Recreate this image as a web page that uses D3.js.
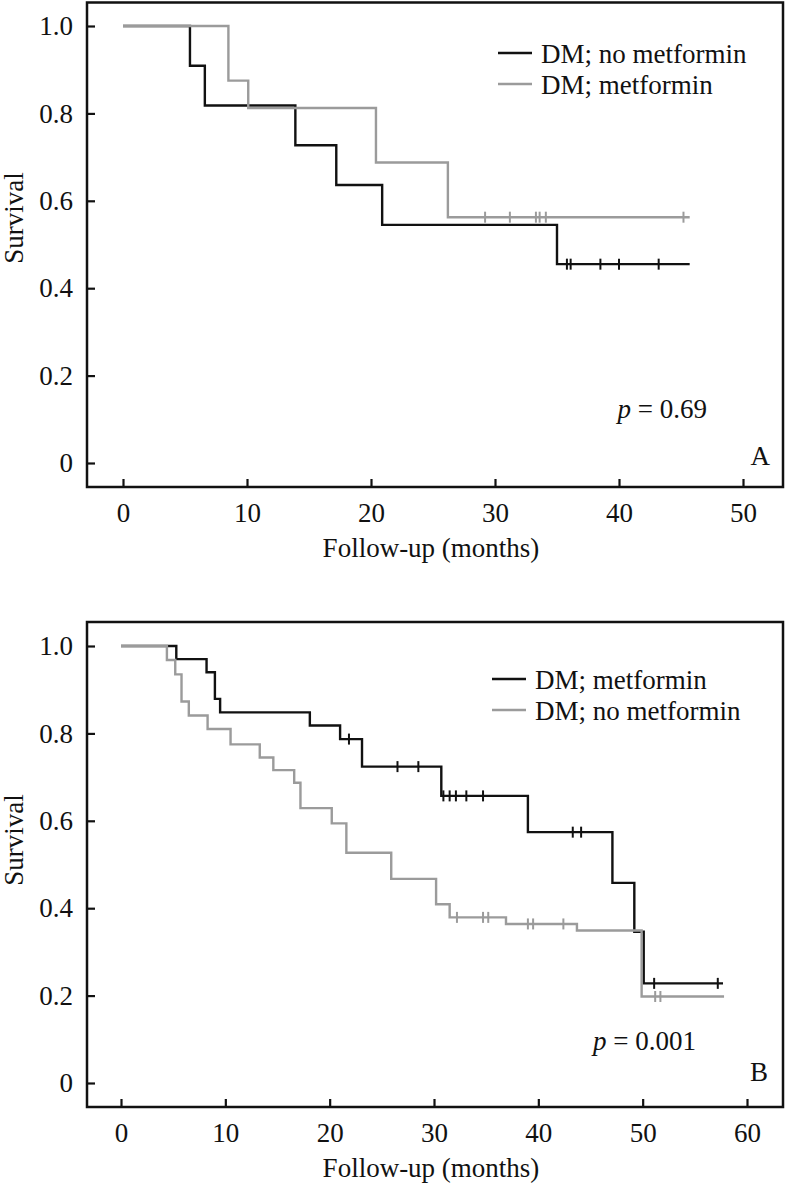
<!DOCTYPE html>
<html>
<head>
<meta charset="utf-8">
<script src="https://cdn.jsdelivr.net/npm/d3@7"></script>
<style>
  html, body { margin: 0; padding: 0; background: #fff; }
  svg { display: block; }
  text { font-family: "Liberation Serif", "Times New Roman", serif; fill: #111; }
</style>
</head>
<body>
<svg id="chart" width="787" height="1188"></svg>
<script>
// ---------- Data ----------
// Panel A
const aYTicks = [0, 0.2, 0.4, 0.6, 0.8, 1.0];
const aXTicks = [0, 10, 20, 30, 40, 50];
const aBlackLabel = "DM; no metformin";
const aBlackTimes = [0, 5.4, 6.6, 13.9, 17.2, 20.9, 35.0];
const aBlackSurv  = [1, 0.909, 0.818, 0.727, 0.636, 0.545, 0.455];
const aBlackEnd = 45.7;
const aBlackCensor = [35.8, 36.1, 38.5, 40.0, 43.2];
const aGrayLabel = "DM; metformin";
const aGrayTimes = [0, 8.5, 10.1, 20.4, 26.2];
const aGraySurv  = [1, 0.875, 0.8125, 0.6875, 0.5625];
const aGrayEnd = 45.7;
const aGrayCensor = [29.2, 31.2, 33.3, 33.6, 34.1, 45.2];
const aPValue = "0.69";
const aLetter = "A";

// Panel B
const bYTicks = [0, 0.2, 0.4, 0.6, 0.8, 1.0];
const bXTicks = [0, 10, 20, 30, 40, 50, 60];
const bBlackLabel = "DM; metformin";
const bBlackTimes = [0, 5.3, 8.2, 9.0, 9.5, 18.1, 21.0, 23.1, 30.7, 39.0, 47.1, 49.2, 50.1];
const bBlackSurv  = [1, 0.970, 0.940, 0.879, 0.848, 0.818, 0.787, 0.724, 0.657, 0.574, 0.458, 0.346, 0.228];
const bBlackEnd = 57.7;
const bBlackCensor = [21.85, 26.5, 28.5, 30.9, 31.5, 32.1, 33.1, 34.7, 43.3, 44.1, 51.1, 57.2];
const bGrayLabel = "DM; no metformin";
const bGrayTimes = [0, 4.4, 5.2, 5.8, 6.5, 8.3, 10.5, 13.3, 14.6, 16.6, 17.2, 20.2, 21.6, 25.9, 30.2, 31.5, 36.9, 43.7, 49.9];
const bGraySurv  = [1, 0.968, 0.935, 0.873, 0.841, 0.810, 0.775, 0.745, 0.716, 0.687, 0.629, 0.594, 0.527, 0.467, 0.409, 0.379, 0.364, 0.349, 0.198];
const bGrayEnd = 57.8;
const bGrayCensor = [32.2, 34.7, 35.2, 39.0, 39.5, 42.4, 51.2, 51.7];
const bPValue = "0.001";
const bLetter = "B";

const xTitle = "Follow-up (months)";
const yTitle = "Survival";

// ---------- Drawing ----------
const svg = d3.select("#chart");
const BLACK = "#111111", GRAY = "#9b9b9b";
const FS = 27;

function panel(cfg) {
  const g = svg.append("g");
  const x = d3.scaleLinear().domain(cfg.xDomain).range(cfg.xRange);
  const y = d3.scaleLinear().domain([0, 1]).range(cfg.yRange);

  // axes (ticks inward)
  const yAxis = d3.axisLeft(y).tickValues(cfg.yTicks).tickSize(-8).tickPadding(14)
    .tickFormat(d => d === 0 ? "0" : d.toFixed(1));
  const ya = g.append("g").attr("transform", `translate(${cfg.frame.x0},0)`).call(yAxis);
  const xAxis = d3.axisBottom(x).tickValues(cfg.xTicks).tickSize(-8).tickPadding(16)
    .tickFormat(d3.format("d"));
  const xa = g.append("g").attr("transform", `translate(0,${cfg.frame.y1})`).call(xAxis);
  [ya, xa].forEach(a => {
    a.select(".domain").remove();
    a.selectAll(".tick line").attr("stroke", BLACK).attr("stroke-width", 2.2);
    a.selectAll(".tick text").attr("font-size", FS).attr("font-family", "Liberation Serif").attr("fill", "#111");
  });

  // frame
  g.append("rect")
    .attr("x", cfg.frame.x0).attr("y", cfg.frame.y0)
    .attr("width", cfg.frame.x1 - cfg.frame.x0).attr("height", cfg.frame.y1 - cfg.frame.y0)
    .attr("fill", "none").attr("stroke", BLACK).attr("stroke-width", 2.5);

  // curves
  const line = d3.line().x(d => x(d[0])).y(d => y(d[1])).curve(d3.curveStepAfter);
  cfg.series.forEach(s => {
    const pts = s.times.map((t, i) => [t, s.surv[i]]);
    pts.push([s.end, s.surv[s.surv.length - 1]]);
    g.append("path").datum(pts)
      .attr("d", line).attr("fill", "none")
      .attr("stroke", s.color).attr("stroke-width", 2.4);
    // censor marks
    const survAt = t => { let v = 1; s.times.forEach((tt, i) => { if (tt <= t) v = s.surv[i]; }); return v; };
    g.selectAll(null).data(s.censor).enter().append("line")
      .attr("x1", d => x(d)).attr("x2", d => x(d))
      .attr("y1", d => y(survAt(d)) - 5.5).attr("y2", d => y(survAt(d)) + 5.5)
      .attr("stroke", s.color).attr("stroke-width", 2);
  });

  // legend
  cfg.series.forEach((s, i) => {
    const ly = cfg.legend.y + i * 31;
    g.append("line").attr("x1", cfg.legend.x).attr("x2", cfg.legend.x + 34)
      .attr("y1", ly).attr("y2", ly).attr("stroke", s.color).attr("stroke-width", 2.4);
    g.append("text").attr("x", cfg.legend.x + 43).attr("y", ly + 10)
      .attr("font-size", FS).text(s.label);
  });

  // p value
  const pt = g.append("text").attr("x", cfg.p.x).attr("y", cfg.p.y)
    .attr("text-anchor", "end").attr("font-size", FS);
  pt.append("tspan").attr("font-style", "italic").text("p");
  pt.append("tspan").text(" = " + cfg.p.value);

  // panel letter
  g.append("text").attr("x", cfg.letter.x).attr("y", cfg.letter.y)
    .attr("text-anchor", "end").attr("font-size", FS).text(cfg.letter.text);

  // axis titles
  g.append("text").attr("x", (cfg.frame.x0 + cfg.frame.x1) / 2 - 4).attr("y", cfg.xTitleY)
    .attr("text-anchor", "middle").attr("font-size", FS).text(xTitle);
  g.append("text").attr("transform", `translate(23,${cfg.yTitleY}) rotate(-90)`)
    .attr("text-anchor", "middle").attr("font-size", FS).text(yTitle);
}

panel({
  xDomain: [0, 50], xRange: [123, 743], yRange: [463, 26],
  yTicks: aYTicks, xTicks: aXTicks,
  frame: { x0: 87, x1: 783, y0: 2.5, y1: 487 },
  series: [
    { label: aBlackLabel, color: BLACK, times: aBlackTimes, surv: aBlackSurv, end: aBlackEnd, censor: aBlackCensor },
    { label: aGrayLabel, color: GRAY, times: aGrayTimes, surv: aGraySurv, end: aGrayEnd, censor: aGrayCensor }
  ],
  legend: { x: 498, y: 53 },
  p: { x: 707, y: 418, value: aPValue },
  letter: { x: 770, y: 465, text: aLetter },
  xTitleY: 557, yTitleY: 218
});

panel({
  xDomain: [0, 60], xRange: [121, 747], yRange: [1083, 646],
  yTicks: bYTicks, xTicks: bXTicks,
  frame: { x0: 87, x1: 783, y0: 622, y1: 1107 },
  series: [
    { label: bBlackLabel, color: BLACK, times: bBlackTimes, surv: bBlackSurv, end: bBlackEnd, censor: bBlackCensor },
    { label: bGrayLabel, color: GRAY, times: bGrayTimes, surv: bGraySurv, end: bGrayEnd, censor: bGrayCensor }
  ],
  legend: { x: 492, y: 679 },
  p: { x: 696, y: 1050, value: bPValue },
  letter: { x: 768, y: 1081, text: bLetter },
  xTitleY: 1177, yTitleY: 840
});
</script>
</body>
</html>
